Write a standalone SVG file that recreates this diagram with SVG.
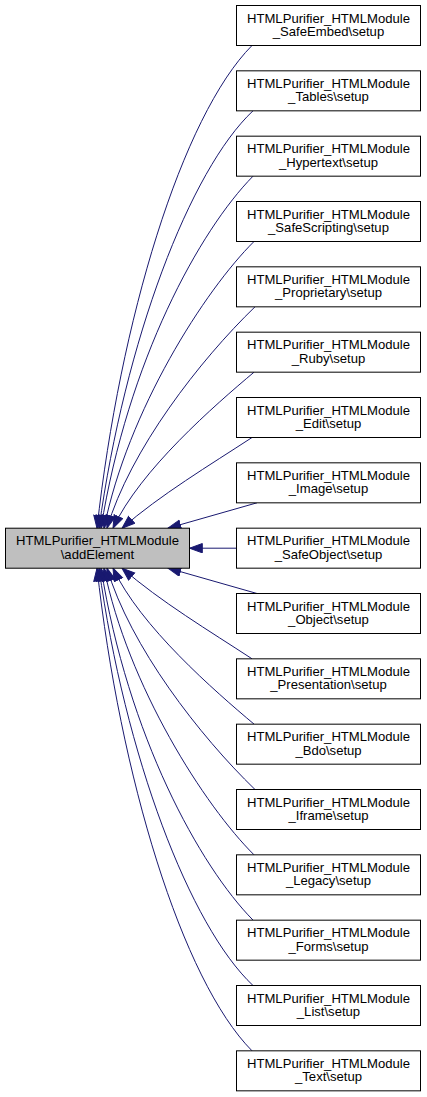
<svg xmlns="http://www.w3.org/2000/svg" width="427" height="1097" viewBox="0 0 427 1097">
<style>
.bg{fill:#ffffff}
.node rect{fill:#ffffff;stroke:#000000;stroke-width:1}
#n_addElement rect{fill:#bfbfbf}
.node text{font-family:"Liberation Sans",Arial,Helvetica,sans-serif;font-size:13.1px;fill:#000000;text-anchor:middle}
.edge{fill:none;stroke:#191970;stroke-width:1;marker-end:url(#arr)}
</style>
<defs>
<marker id="arr" markerUnits="userSpaceOnUse" markerWidth="15" markerHeight="11" refX="13.3" refY="5.17" orient="auto">
<path d="M0.5,0.5 L13.3,5.17 L0.5,9.83 z" fill="#191970" stroke="#191970" stroke-width="1"/>
</marker>
</defs>
<rect class="bg" x="0" y="0" width="427" height="1097"/>
<g id="edges">
<path class="edge" d="M252,45.5 C182,116 120,320 97,528.2"/>
<path class="edge" d="M253,110.8 C190,170 125,340 99,528.2"/>
<path class="edge" d="M253,176.2 C200,230 128,360 101,528.2"/>
<path class="edge" d="M254,241.5 C205,290 128,410 104,528.2"/>
<path class="edge" d="M255,306.8 C200,360 130,450 107,528.2"/>
<path class="edge" d="M254,372.2 C215,405 140,470 113,528.2"/>
<path class="edge" d="M252,437.5 C210,465 160,495 122,528.2"/>
<path class="edge" d="M257,502.8 L168,528.2"/>
<path class="edge" d="M236.5,548.2 L189.5,548.2"/>
<path class="edge" d="M257,593.5 L168,568.1"/>
<path class="edge" d="M252,658.8 C210,631.3 160,601.3 122,568.1"/>
<path class="edge" d="M254,724.1 C215,691.3 140,626.3 113,568.1"/>
<path class="edge" d="M255,789.5 C200,736.3 130,646.3 107,568.1"/>
<path class="edge" d="M254,854.8 C205,806.3 128,686.3 104,568.1"/>
<path class="edge" d="M253,920.1 C200,866.3 128,736.3 101,568.1"/>
<path class="edge" d="M253,985.5 C190,926.3 125,756.3 99,568.1"/>
<path class="edge" d="M252,1050.8 C182,980.3 120,776.3 97,568.1"/>
</g>
<g id="n_addElement" class="node"><rect x="5.5" y="528.2" width="184" height="40"/><text x="97.5" y="545.4">HTMLPurifier_HTMLModule</text><text x="97.5" y="558.8">\addElement</text></g>
<g id="n_SafeEmbed" class="node"><rect x="236.5" y="5.5" width="184" height="40"/><text x="328.5" y="22.7">HTMLPurifier_HTMLModule</text><text x="328.5" y="36.1">_SafeEmbed\setup</text></g>
<g id="n_Tables" class="node"><rect x="236.5" y="70.83" width="184" height="40"/><text x="328.5" y="88.03">HTMLPurifier_HTMLModule</text><text x="328.5" y="101.43">_Tables\setup</text></g>
<g id="n_Hypertext" class="node"><rect x="236.5" y="136.17" width="184" height="40"/><text x="328.5" y="153.37">HTMLPurifier_HTMLModule</text><text x="328.5" y="166.77">_Hypertext\setup</text></g>
<g id="n_SafeScripting" class="node"><rect x="236.5" y="201.5" width="184" height="40"/><text x="328.5" y="218.7">HTMLPurifier_HTMLModule</text><text x="328.5" y="232.1">_SafeScripting\setup</text></g>
<g id="n_Proprietary" class="node"><rect x="236.5" y="266.83" width="184" height="40"/><text x="328.5" y="284.03">HTMLPurifier_HTMLModule</text><text x="328.5" y="297.43">_Proprietary\setup</text></g>
<g id="n_Ruby" class="node"><rect x="236.5" y="332.17" width="184" height="40"/><text x="328.5" y="349.37">HTMLPurifier_HTMLModule</text><text x="328.5" y="362.77">_Ruby\setup</text></g>
<g id="n_Edit" class="node"><rect x="236.5" y="397.5" width="184" height="40"/><text x="328.5" y="414.7">HTMLPurifier_HTMLModule</text><text x="328.5" y="428.1">_Edit\setup</text></g>
<g id="n_Image" class="node"><rect x="236.5" y="462.83" width="184" height="40"/><text x="328.5" y="480.03">HTMLPurifier_HTMLModule</text><text x="328.5" y="493.43">_Image\setup</text></g>
<g id="n_SafeObject" class="node"><rect x="236.5" y="528.17" width="184" height="40"/><text x="328.5" y="545.37">HTMLPurifier_HTMLModule</text><text x="328.5" y="558.77">_SafeObject\setup</text></g>
<g id="n_Object" class="node"><rect x="236.5" y="593.5" width="184" height="40"/><text x="328.5" y="610.7">HTMLPurifier_HTMLModule</text><text x="328.5" y="624.1">_Object\setup</text></g>
<g id="n_Presentation" class="node"><rect x="236.5" y="658.83" width="184" height="40"/><text x="328.5" y="676.03">HTMLPurifier_HTMLModule</text><text x="328.5" y="689.43">_Presentation\setup</text></g>
<g id="n_Bdo" class="node"><rect x="236.5" y="724.17" width="184" height="40"/><text x="328.5" y="741.37">HTMLPurifier_HTMLModule</text><text x="328.5" y="754.77">_Bdo\setup</text></g>
<g id="n_Iframe" class="node"><rect x="236.5" y="789.5" width="184" height="40"/><text x="328.5" y="806.7">HTMLPurifier_HTMLModule</text><text x="328.5" y="820.1">_Iframe\setup</text></g>
<g id="n_Legacy" class="node"><rect x="236.5" y="854.83" width="184" height="40"/><text x="328.5" y="872.03">HTMLPurifier_HTMLModule</text><text x="328.5" y="885.43">_Legacy\setup</text></g>
<g id="n_Forms" class="node"><rect x="236.5" y="920.17" width="184" height="40"/><text x="328.5" y="937.37">HTMLPurifier_HTMLModule</text><text x="328.5" y="950.77">_Forms\setup</text></g>
<g id="n_List" class="node"><rect x="236.5" y="985.5" width="184" height="40"/><text x="328.5" y="1002.7">HTMLPurifier_HTMLModule</text><text x="328.5" y="1016.1">_List\setup</text></g>
<g id="n_Text" class="node"><rect x="236.5" y="1050.83" width="184" height="40"/><text x="328.5" y="1068.03">HTMLPurifier_HTMLModule</text><text x="328.5" y="1081.43">_Text\setup</text></g>
</svg>
